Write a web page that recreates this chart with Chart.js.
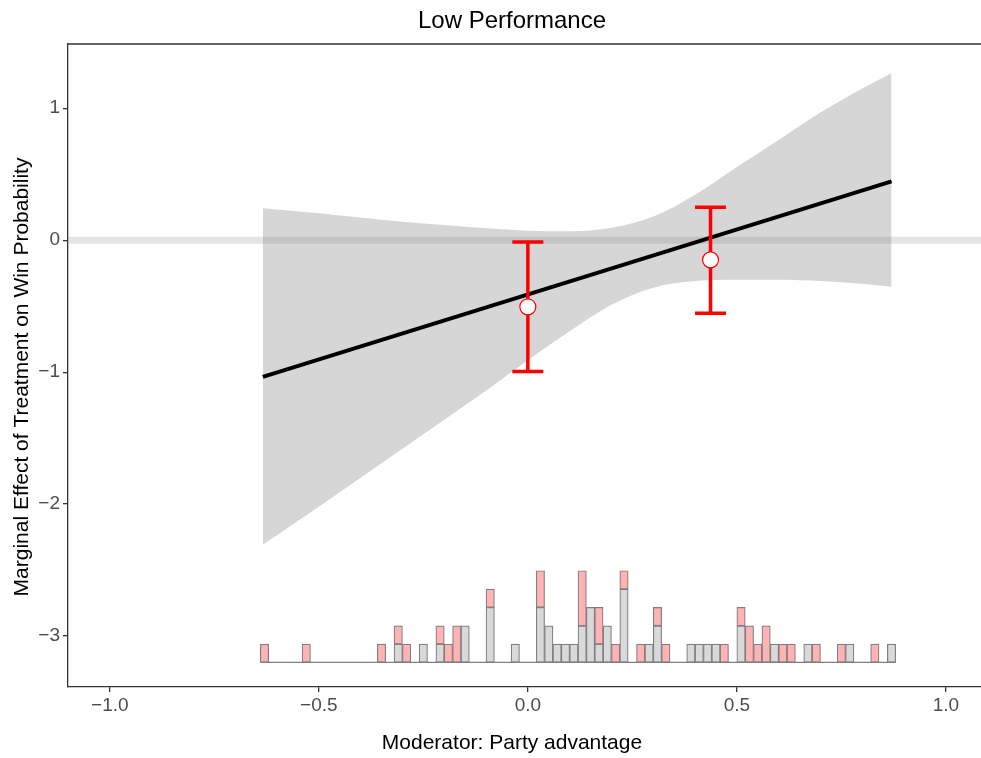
<!DOCTYPE html>
<html>
<head>
<meta charset="utf-8">
<script src="https://cdn.jsdelivr.net/npm/chart.js@4.4.1/dist/chart.umd.min.js"></script>
<style>
  html, body { margin: 0; padding: 0; background: #fff; }
</style>
</head>
<body>
<canvas id="chart" width="981" height="758"></canvas>
<script>
// fitted marginal effect line
const fitX = [-0.634, 0.87];
const fitY = [-1.036, 0.446];

// confidence band
const bandX = [-0.634, -0.5, -0.4, -0.3, -0.2, -0.1, 0, 0.1, 0.2, 0.3, 0.4, 0.5, 0.6, 0.7, 0.8, 0.87];
const bandUpper = [0.242, 0.205, 0.172, 0.14, 0.115, 0.09, 0.072, 0.068, 0.095, 0.18, 0.345, 0.555, 0.76, 0.967, 1.15, 1.265];
const bandLower = [-2.308, -2.02, -1.8, -1.58, -1.36, -1.14, -0.91, -0.69, -0.49, -0.36, -0.31, -0.3, -0.3, -0.31, -0.33, -0.352];

// binned estimates
const pointX = [0, 0.437];
const pointY = [-0.505, -0.149];
const ciLow = [-0.995, -0.553];
const ciHigh = [-0.013, 0.25];

// histogram of the moderator (76 bins of width 0.02 starting at -0.64)
const binStart = -0.64;
const binWidth = 0.02;
const greyCounts = [
  0,0,0,0,0, 0,0,0,0,0, 0,0,0,0,0, 0,1,0,0,1,
  0,1,0,0,2, 0,0,3,0,0, 1,0,0,3,2, 1,1,1,2,3,
  1,2,0,4,0, 0,1,2,0,0, 0,1,1,1,1, 0,0,2,0,0,
  0,1,0,0,0, 1,0,0,0,0, 1,0,0,0,0, 1
];
const pinkCounts = [
  1,0,0,0,0, 1,0,0,0,0, 0,0,0,0,1, 0,1,1,0,0,
  0,1,1,2,0, 0,0,1,0,0, 0,0,0,2,0, 0,0,0,3,0,
  2,0,1,1,0, 1,0,1,1,0, 0,0,0,0,0, 1,0,1,2,1,
  2,0,1,1,0, 0,1,0,0,1, 0,0,0,1,0, 0
];
const histBase = -3.2;
const countUnit = 0.139;

const xTicks = [-1, -0.5, 0, 0.5, 1];
const xTickLabels = ['\u22121.0', '\u22120.5', '0.0', '0.5', '1.0'];
const yTicks = [-3, -2, -1, 0, 1];
const yTickLabels = ['\u22123', '\u22122', '\u22121', '0', '1'];

const FONT = "'Liberation Sans', Arial, Helvetica, sans-serif";

const greyBars = [];
const pinkBars = [];
greyCounts.forEach((g, i) => {
  const mid = binStart + binWidth * (i + 0.5);
  const p = pinkCounts[i];
  if (g > 0) greyBars.push({ x: mid, y: [histBase, histBase + g * countUnit] });
  if (p > 0) pinkBars.push({ x: mid, y: [histBase + g * countUnit, histBase + (g + p) * countUnit] });
});
const histEnd = binStart + binWidth * greyCounts.length;

const errorBars = {
  id: 'errorBars',
  beforeDatasetDraw(chart, args) {
    if (args.index !== 0) return;
    const { ctx, scales: { x, y } } = chart;
    ctx.save();
    ctx.strokeStyle = '#ff0000';
    ctx.lineWidth = 3.5;
    pointX.forEach((v, i) => {
      const px = x.getPixelForValue(v);
      const lo = y.getPixelForValue(ciLow[i]);
      const hi = y.getPixelForValue(ciHigh[i]);
      ctx.beginPath();
      ctx.moveTo(px, lo); ctx.lineTo(px, hi);
      ctx.moveTo(px - 15.5, lo); ctx.lineTo(px + 15.5, lo);
      ctx.moveTo(px - 15.5, hi); ctx.lineTo(px + 15.5, hi);
      ctx.stroke();
    });
    ctx.restore();
  }
};

const frameAndText = {
  id: 'frameAndText',
  afterDraw(chart) {
    const { ctx, chartArea: a } = chart;
    ctx.save();
    ctx.strokeStyle = '#333';
    ctx.lineWidth = 1.3;
    ctx.beginPath();
    ctx.moveTo(a.left, a.top);
    ctx.lineTo(a.right, a.top);
    ctx.stroke();

    ctx.fillStyle = '#000';
    ctx.textAlign = 'center';
    ctx.textBaseline = 'alphabetic';
    ctx.font = '24px ' + FONT;
    ctx.fillText('Low Performance', 512, 28);
    ctx.font = '21px ' + FONT;
    ctx.fillText('Moderator: Party advantage', 512, 749);
    ctx.translate(28, 377);
    ctx.rotate(-Math.PI / 2);
    ctx.fillText('Marginal Effect of Treatment on Win Probability', 0, 0);
    ctx.restore();
  }
};

const xy = (xs, ys) => xs.map((v, i) => ({ x: v, y: ys[i] }));

new Chart(document.getElementById('chart'), {
  type: 'line',
  data: {
    datasets: [
      {
        label: 'Estimates',
        type: 'scatter',
        data: xy(pointX, pointY),
        pointRadius: 8,
        pointBackgroundColor: '#ffffff',
        pointBorderColor: '#ff0000',
        pointBorderWidth: 1.2,
        order: 0,
      },
      {
        label: 'Histogram base',
        data: [{ x: binStart, y: histBase }, { x: histEnd, y: histBase }],
        borderColor: '#808080',
        borderWidth: 1.2,
        pointRadius: 0,
        order: 1,
      },
      {
        label: 'Treated',
        type: 'bar',
        data: pinkBars,
        backgroundColor: '#ffb3b3',
        borderColor: '#808080',
        borderWidth: 1.2,
        borderSkipped: false,
        grouped: false,
        barPercentage: 1,
        categoryPercentage: 1,
        order: 2,
      },
      {
        label: 'Control',
        type: 'bar',
        data: greyBars,
        backgroundColor: '#d9d9d9',
        borderColor: '#808080',
        borderWidth: 1.2,
        borderSkipped: false,
        grouped: false,
        barPercentage: 1,
        categoryPercentage: 1,
        order: 3,
      },
      {
        label: 'Fit',
        data: xy(fitX, fitY),
        borderColor: '#000000',
        borderWidth: 4,
        pointRadius: 0,
        order: 4,
      },
      {
        label: 'Zero',
        data: [{ x: -1.2, y: 0 }, { x: 1.2, y: 0 }],
        borderColor: 'rgba(127,127,127,0.2)',
        borderWidth: 7,
        pointRadius: 0,
        order: 5,
      },
      {
        label: 'Upper',
        data: xy(bandX, bandUpper),
        borderWidth: 0,
        borderColor: 'rgba(0,0,0,0)',
        backgroundColor: '#d6d6d6',
        fill: '+1',
        pointRadius: 0,
        cubicInterpolationMode: 'monotone',
        order: 6,
      },
      {
        label: 'Lower',
        data: xy(bandX, bandLower),
        borderWidth: 0,
        borderColor: 'rgba(0,0,0,0)',
        pointRadius: 0,
        cubicInterpolationMode: 'monotone',
        order: 7,
      },
    ],
  },
  options: {
    responsive: false,
    animation: false,
    layout: { autoPadding: false, padding: { top: 44, left: 0, right: 0, bottom: 0 } },
    plugins: {
      legend: { display: false },
      title: { display: false },
      tooltip: { enabled: false },
    },
    scales: {
      x: {
        type: 'linear',
        min: -1.1,
        max: 1.084,
        offset: false,
        afterBuildTicks: (s) => { s.ticks = xTicks.map((v) => ({ value: v })); },
        afterFit: (s) => { s.height = 71; s.paddingLeft = 0; s.paddingRight = 0; },
        ticks: {
          callback: (v, i) => xTickLabels[i],
          color: '#4d4d4d',
          font: { family: FONT, size: 19 },
          padding: 2,
          maxRotation: 0,
        },
        grid: { drawOnChartArea: false, offset: false, tickLength: 5, color: '#333', lineWidth: 1.3 },
        border: { color: '#333', width: 1.3 },
      },
      y: {
        type: 'linear',
        min: -3.386,
        max: 1.487,
        afterBuildTicks: (s) => { s.ticks = yTicks.map((v) => ({ value: v })); },
        afterFit: (s) => { s.width = 68; s.paddingTop = 0; s.paddingBottom = 0; },
        ticks: {
          callback: (v, i) => yTickLabels[i],
          color: '#4d4d4d',
          font: { family: FONT, size: 19 },
          padding: 3,
        },
        grid: { drawOnChartArea: false, tickLength: 5, color: '#333', lineWidth: 1.3 },
        border: { color: '#333', width: 1.3 },
      },
    },
  },
  plugins: [errorBars, frameAndText],
});
</script>
</body>
</html>
